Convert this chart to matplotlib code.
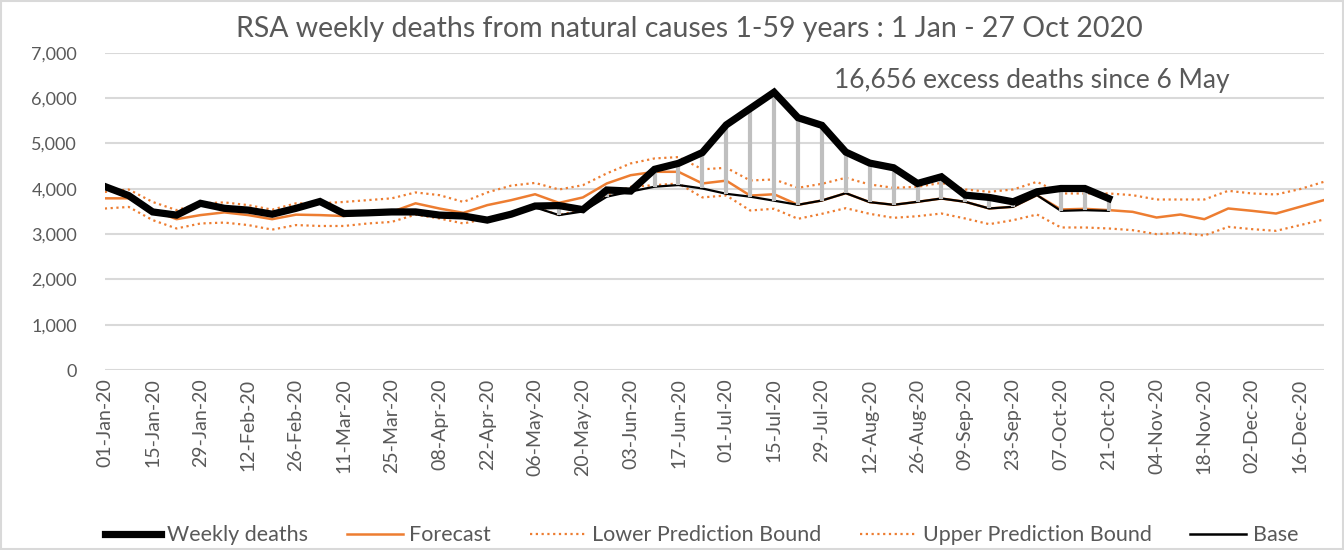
import numpy as np
import pandas as pd
import matplotlib
matplotlib.use("Agg")
import matplotlib.pyplot as plt
from matplotlib.ticker import FuncFormatter
from matplotlib.patches import Rectangle

plt.rcParams["font.family"] = ["Lato", "DejaVu Sans"]

# Weeks (categories) 01-Jan-20 .. 23-Dec-20
weeks = pd.date_range("2020-01-01", periods=52, freq="7D")
week_labels = [d.strftime("%d-%b-%y") for d in weeks]

# Weekly deaths, 01-Jan .. 21-Oct
weekly = [4050, 3850, 3490, 3420, 3680, 3570, 3530, 3440, 3570, 3720,
          3455, 3470, 3490, 3490, 3420, 3400, 3310, 3440, 3620, 3630,
          3540, 3973, 3950, 4430, 4562, 4800, 5410, 5770, 6130, 5568,
          5400, 4810, 4567, 4464, 4118, 4265, 3860, 3810, 3713, 3934,
          4007, 4007, 3786]

forecast = [3790, 3790, 3530, 3330, 3420, 3480, 3420, 3330, 3430, 3420,
            3400, 3455, 3490, 3680, 3565, 3470, 3640, 3750, 3880, 3690,
            3810, 4118, 4300, 4375, 4375, 4118, 4180, 3850, 3880, 3647,
            3742, 3904, 3706, 3647, 3713, 3786, 3713, 3566, 3603, 3860,
            3544, 3558, 3530, 3492, 3367, 3433, 3330, 3566, 3514, 3455,
            3603, 3750]

lower = [3565, 3600, 3310, 3125, 3235, 3255, 3200, 3100, 3200, 3180,
         3180, 3235, 3270, 3430, 3345, 3235, 3345, 3460, 3600, 3420,
         3545, 3860, 4044, 4080, 4118, 3810, 3853, 3522, 3560, 3338,
         3448, 3573, 3448, 3360, 3396, 3455, 3345, 3220, 3308, 3433,
         3147, 3147, 3125, 3088, 3000, 3029, 2970, 3161, 3110, 3073,
         3198, 3323]

upper = [3930, 3985, 3710, 3530, 3680, 3700, 3640, 3540, 3680, 3680,
         3710, 3750, 3790, 3920, 3860, 3710, 3920, 4070, 4130, 3985,
         4080, 4340, 4560, 4670, 4700, 4430, 4464, 4184, 4206, 4022,
         4110, 4243, 4096, 4022, 4044, 4132, 3985, 3934, 3985, 4154,
         3897, 3897, 3897, 3860, 3764, 3764, 3764, 3956, 3897, 3875,
         3993, 4154]

# Base from 29-Apr (index 17) to 21-Oct
base_start = 17
base = [3440, 3590, 3420, 3500, 3826, 3940, 4046, 4083, 4007, 3890,
        3826, 3738, 3647, 3742, 3904, 3706, 3647, 3713, 3786, 3713,
        3566, 3603, 3860, 3514, 3529, 3514]

orange = "#ED7D31"
grey_txt = "#595959"
dots = (0, (1, 1.6))

fig = plt.figure(figsize=(13.44, 5.5), dpi=100)
ax = fig.add_axes([0.078, 0.327, 0.907, 0.577])

x = np.arange(len(week_labels))
xw = x[:len(weekly)]
xb = x[base_start:base_start + len(base)]

ax.plot(x, lower, color=orange, lw=1.6, linestyle=dots, zorder=2)
ax.plot(x, upper, color=orange, lw=1.6, linestyle=dots, zorder=2)
ax.plot(x, forecast, color=orange, lw=1.8, zorder=3)
ax.plot(xb, base, color="black", lw=1.6, zorder=4)
ax.vlines(xb, base, weekly[base_start:], color="#BFBFBF", lw=3, zorder=5)
ax.plot(xw, weekly, color="black", lw=5.2, zorder=6, solid_joinstyle="miter")

ax.set_xlim(0, len(week_labels) - 1)
ax.set_ylim(0, 7000)
ax.set_yticks(range(0, 7001, 1000))
ax.yaxis.set_major_formatter(FuncFormatter(lambda v, p: f"{int(v):,}"))
ax.set_xticks(x[::2])
ax.set_xticklabels(week_labels[::2], rotation=90)
ax.tick_params(axis="both", length=0, colors=grey_txt)
ax.tick_params(axis="y", pad=20, labelsize=13)
ax.tick_params(axis="x", pad=6, labelsize=14)
ax.grid(axis="y", color="#D9D9D9", lw=1.5)
ax.set_axisbelow(True)
for s in ax.spines.values():
    s.set_visible(False)

fig.text(0.513, 0.948, "RSA weekly deaths from natural causes 1-59 years : 1 Jan - 27 Oct 2020",
         ha="center", va="center", fontsize=20.5, color=grey_txt)
fig.text(0.768, 0.853, "16,656 excess deaths since 6 May",
         ha="center", va="center", fontsize=19, color=grey_txt)

handles = [
    plt.Line2D([], [], color="black", lw=5.2),
    plt.Line2D([], [], color=orange, lw=1.8),
    plt.Line2D([], [], color=orange, lw=1.6, linestyle=dots),
    plt.Line2D([], [], color=orange, lw=1.6, linestyle=dots),
    plt.Line2D([], [], color="black", lw=1.8),
]
names = ["Weekly deaths", "Forecast", "Lower Prediction Bound", "Upper Prediction Bound", "Base"]
leg = fig.legend(handles, names, loc="center", bbox_to_anchor=(0.522, 0.027), ncol=5,
                 frameon=False, fontsize=15.5, handlelength=2.6, columnspacing=1.8,
                 handletextpad=0.3)
for t in leg.get_texts():
    t.set_color(grey_txt)

fig.patches.append(Rectangle((0.001, 0.001), 0.998, 0.998, transform=fig.transFigure,
                             fill=False, edgecolor="#D9D9D9", lw=1.5))

fig.savefig("out.png", dpi=100)
